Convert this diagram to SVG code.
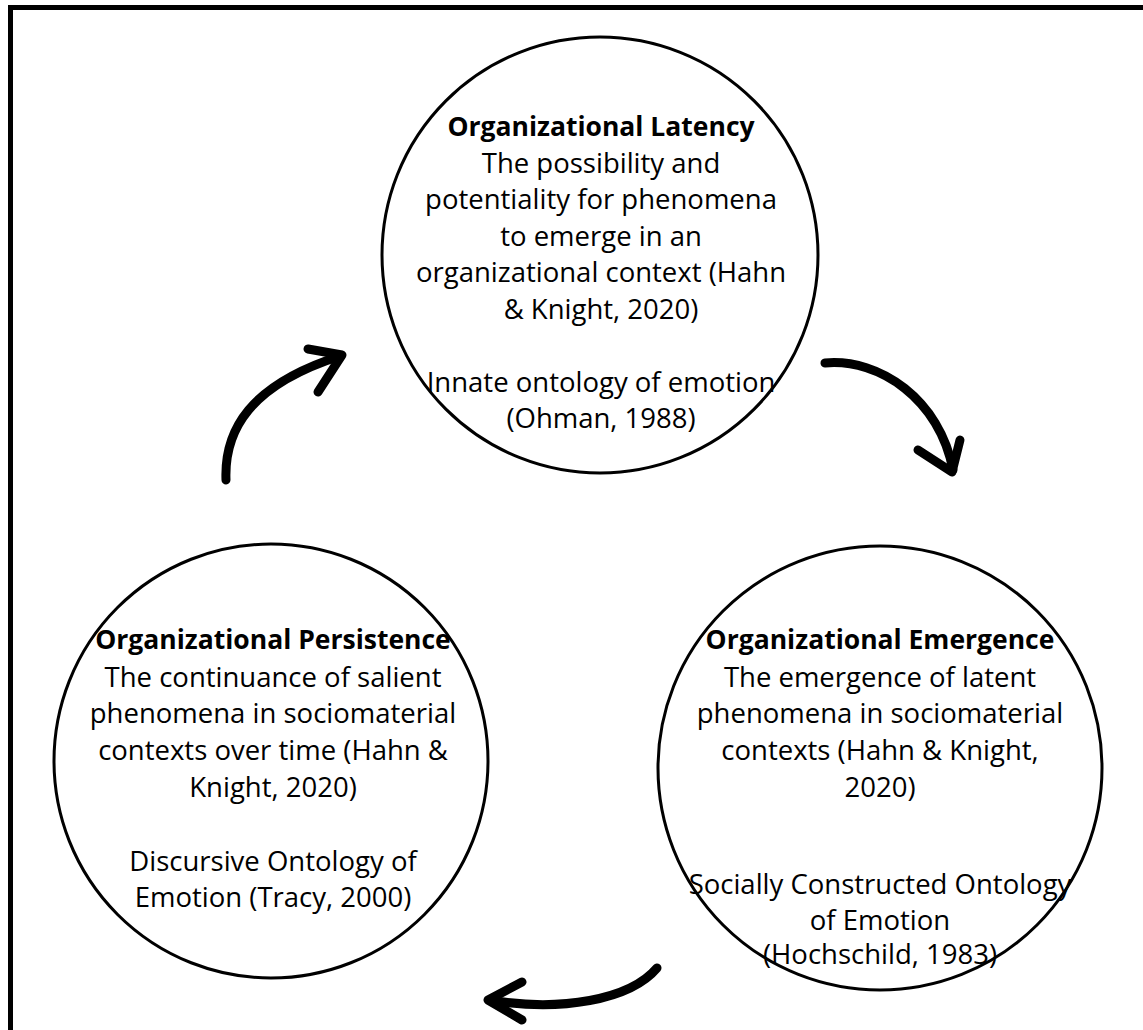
<svg xmlns="http://www.w3.org/2000/svg" width="1143" height="1030" viewBox="0 0 1143 1030">
  <style>
    .ring { fill: #ffffff; stroke: #000000; stroke-width: 3; }
    .title { font-family: "Open Sans", "Liberation Sans", sans-serif; font-weight: 700; font-size: 26.5px; fill: #000000; text-anchor: middle; }
    .body { font-family: "Open Sans", "Liberation Sans", sans-serif; font-weight: 400; font-size: 27.5px; fill: #000000; text-anchor: middle; }
    .stroke { fill: none; stroke: #000000; stroke-width: 9; stroke-linecap: round; stroke-linejoin: round; }
  </style>

  <!-- page background and frame -->
  <rect x="0" y="0" width="1143" height="1030" fill="#ffffff"/>
  <rect x="10.5" y="7.5" width="1160" height="1060" fill="none" stroke="#000000" stroke-width="5"/>

  <!-- cycle connectors -->
  <g id="connectors">
    <g id="arrow-persistence-to-latency">
      <path class="stroke" d="M226,480 C224,430 250,385 340,356"/>
      <path class="stroke" d="M308,349 L342,355 L318,392"/>
    </g>
    <g id="arrow-latency-to-emergence">
      <path class="stroke" d="M825,363 C880,358 940,400 953,470"/>
      <path class="stroke" d="M918,450 L952,472 L960,440"/>
    </g>
    <g id="arrow-emergence-to-persistence">
      <path class="stroke" d="M657,968 C630,1000 560,1012 490,1000"/>
      <path class="stroke" d="M522,982 L488,1000 L522,1020"/>
    </g>
  </g>

  <g id="node-latency">
    <circle class="ring" cx="600" cy="255" r="218"/>
    <text class="title" x="601" y="136">Organizational Latency</text>
    <text class="body" x="601" y="172.5">The possibility and</text>
    <text class="body" x="601" y="209">potentiality for phenomena</text>
    <text class="body" x="601" y="245.5">to emerge in an</text>
    <text class="body" x="601" y="282">organizational context (Hahn</text>
    <text class="body" x="601" y="318.5">&amp; Knight, 2020)</text>
    <text class="body" x="601" y="392">Innate ontology of emotion</text>
    <text class="body" x="601" y="428">(Ohman, 1988)</text>
  </g>

  <g id="node-persistence">
    <circle class="ring" cx="271" cy="761" r="217"/>
    <text class="title" x="273" y="649">Organizational Persistence</text>
    <text class="body" x="273" y="686.5">The continuance of salient</text>
    <text class="body" x="273" y="723">phenomena in sociomaterial</text>
    <text class="body" x="273" y="760">contexts over time (Hahn &amp;</text>
    <text class="body" x="273" y="796.5">Knight, 2020)</text>
    <text class="body" x="273" y="871">Discursive Ontology of</text>
    <text class="body" x="273" y="907">Emotion (Tracy, 2000)</text>
  </g>

  <g id="node-emergence">
    <circle class="ring" cx="880" cy="768" r="222"/>
    <text class="title" x="880" y="649">Organizational Emergence</text>
    <text class="body" x="880" y="686.5">The emergence of latent</text>
    <text class="body" x="880" y="723">phenomena in sociomaterial</text>
    <text class="body" x="880" y="760">contexts (Hahn &amp; Knight,</text>
    <text class="body" x="880" y="796.5">2020)</text>
    <text class="body" x="880" y="894">Socially Constructed Ontology</text>
    <text class="body" x="880" y="930">of Emotion</text>
    <text class="body" x="880" y="964">(Hochschild, 1983)</text>
  </g>
</svg>
